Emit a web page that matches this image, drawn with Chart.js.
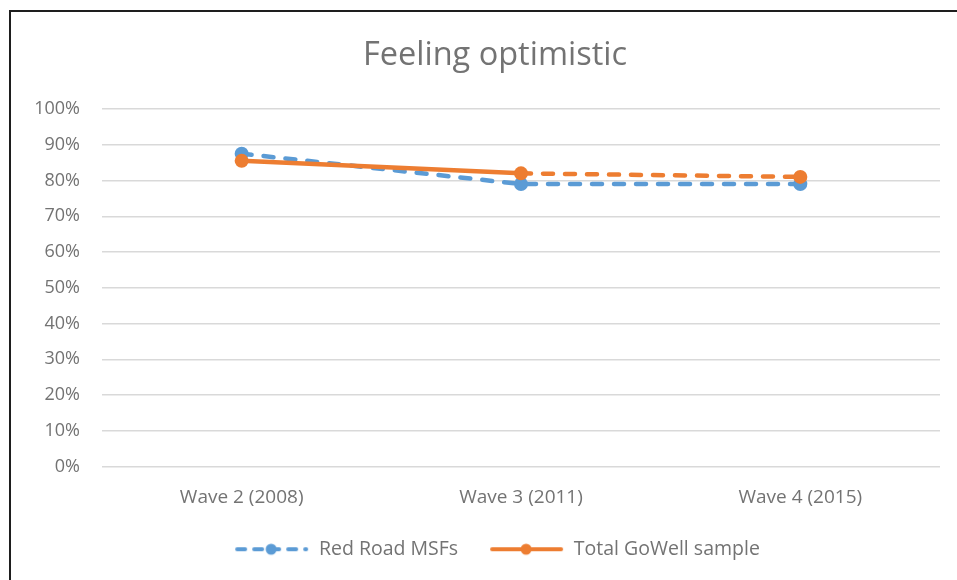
<!DOCTYPE html>
<html>
<head>
<meta charset="utf-8">
<script src="https://cdn.jsdelivr.net/npm/chart.js@4.4.1/dist/chart.umd.min.js"></script>
<style>
    html, body { margin: 0; padding: 0; background: #fff; overflow: hidden; }
    #wrap { position: relative; width: 990px; height: 580px; }
    #frame { position: absolute; left: 9px; top: 10px; width: 1000px; height: 1000px; border: 2px solid #1e1e1e; pointer-events: none; }
</style>
</head>
<body>
<div id="wrap">
    <!-- the original chart runs past the right edge of the picture, so the canvas does too -->
    <canvas id="chart" width="990" height="580"></canvas>
    <div id="frame"></div>
</div>
<script>
// data
const waves = ['Wave 2 (2008)', 'Wave 3 (2011)', 'Wave 4 (2015)'];
const redRoad = [87.5, 79, 79];
const goWell = [85.5, 82, 81];
const yTicks = [0, 10, 20, 30, 40, 50, 60, 70, 80, 90, 100];

const BLUE = '#5B9BD5';
const ORANGE = '#ED7D31';
const TEXT = '#737373';
const FONT = '"Open Sans", Lato, sans-serif';

// legend icons: a short line with the marker in the middle
const ICON_W = 79;
function makeIcon(color, dashed) {
    const c = document.createElement('canvas');
    c.width = ICON_W; c.height = 14;
    const g = c.getContext('2d');
    g.strokeStyle = color;
    g.lineWidth = 4;
    g.lineCap = 'round';
    if (dashed) g.setLineDash([8, 9]);
    g.beginPath();
    g.moveTo(7, 7); g.lineTo(ICON_W - 3, 7);
    g.stroke();
    g.setLineDash([]);
    g.fillStyle = color;
    g.beginPath();
    g.arc(41, 7, 5.5, 0, Math.PI * 2);
    g.fill();
    return c;
}
const icons = [makeIcon(BLUE, true), makeIcon(ORANGE, false)];

const dash = [10, 12];

new Chart(document.getElementById('chart'), {
    type: 'line',
    data: {
        labels: waves,
        datasets: [
            {
                label: 'Red Road MSFs',
                data: redRoad,
                borderColor: BLUE,
                backgroundColor: BLUE,
                borderWidth: 4.5,
                borderDash: dash,
                borderCapStyle: 'round',
                pointRadius: 7,
                pointBorderWidth: 0,
                pointBackgroundColor: BLUE,
                order: 1
            },
            {
                label: 'Total GoWell sample',
                data: goWell,
                borderColor: ORANGE,
                backgroundColor: ORANGE,
                borderWidth: 4.5,
                borderCapStyle: 'round',
                pointRadius: 7,
                pointBorderWidth: 0,
                pointBackgroundColor: ORANGE,
                segment: {
                    borderDash: ctx => ctx.p0DataIndex >= 1 ? dash : undefined
                },
                order: 0
            }
        ]
    },
    options: {
        responsive: false,
        animation: false,
        layout: { padding: { left: 0, right: 0, top: 0, bottom: 11 } },
        plugins: {
            title: {
                display: true,
                text: 'Feeling optimistic',
                color: TEXT,
                font: { family: FONT, size: 32.5, weight: 'normal' },
                padding: { top: 36.5, bottom: 33.5 }
            },
            legend: {
                position: 'bottom',
                labels: {
                    color: TEXT,
                    font: { family: FONT, size: 19.5 },
                    usePointStyle: true,
                    pointStyleWidth: ICON_W,
                    padding: 27,
                    generateLabels: chart => chart.data.datasets.map((ds, i) => ({
                        text: ds.label,
                        datasetIndex: i,
                        pointStyle: icons[i],
                        fontColor: TEXT,
                        hidden: false
                    }))
                }
            },
            tooltip: { enabled: false }
        },
        scales: {
            x: {
                offset: true,
                afterFit: scale => { scale.height = 46; },
                grid: { display: false, drawTicks: false },
                border: { display: false },
                ticks: { color: TEXT, font: { family: FONT, size: 19 }, padding: 20 }
            },
            y: {
                min: 0,
                max: 100,
                afterFit: scale => { scale.width = 102; },
                afterBuildTicks: scale => { scale.ticks = yTicks.map(v => ({ value: v })); },
                grid: { color: '#D9D9D9', lineWidth: 1.5, drawTicks: false },
                border: { display: false },
                ticks: {
                    color: TEXT,
                    font: { family: FONT, size: 18 },
                    padding: 22,
                    callback: v => v + '%'
                }
            },
            // empty right axis, only keeps the plot's right edge where the reference has it
            yRight: {
                type: 'linear',
                position: 'right',
                afterFit: scale => { scale.width = 50; },
                grid: { display: false, drawTicks: false },
                border: { display: false },
                ticks: { display: false }
            }
        }
    }
});
</script>
</body>
</html>
